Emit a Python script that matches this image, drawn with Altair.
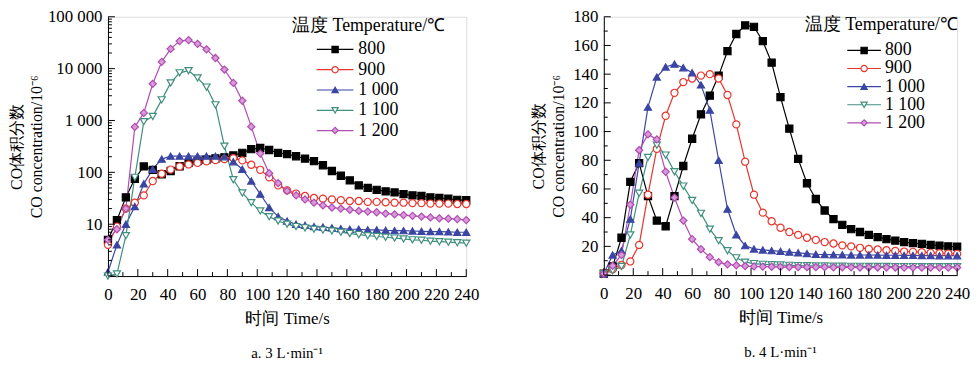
import altair as alt
import pandas as pd

# ---------------- data ----------------
T = list(range(0, 241, 6))
SERIES = ["800", "900", "1 000", "1 100", "1 200"]

# a. 3 L/min  (log scale)
A800 = [5, 12, 33, 75, 130, 112, 92, 106, 131, 152, 165, 175, 185, 195, 212, 238, 280, 295, 270, 238,
        225, 204, 184, 164, 137, 106, 86, 70, 56, 50, 46, 43, 41, 38, 36, 35, 33, 32, 31, 29.5, 29]
A900 = [4, 9, 20, 26, 36, 68, 94, 113, 130, 142, 152, 163, 172, 180, 188, 170, 140, 112, 80, 56,
        45, 39, 35, 32, 31, 30, 29, 28, 28, 27, 27, 26.5, 26, 26, 25.5, 25.5, 25, 25, 25, 24.5, 24.5]
A1000 = [1.2, 4, 10, 22, 60, 115, 180, 205, 205, 205, 205, 205, 205, 200, 160, 115, 68, 38, 21, 14,
         11.5, 10, 9.5, 9, 8.8, 8.5, 8.2, 8, 8, 7.8, 7.8, 7.6, 7.5, 7.5, 7.4, 7.3, 7.2, 7.2, 7.1, 7, 7]
A1100 = [1, 1.1, 6, 80, 950, 1200, 2500, 5300, 8300, 9100, 6600, 4400, 2000, 320, 72, 40, 26, 18, 14, 11.5,
         10, 9, 8.5, 8, 7.7, 7.4, 7, 6.6, 6.3, 6, 5.8, 5.6, 5.4, 5.2, 5, 4.9, 4.7, 4.6, 4.5, 4.4, 4.3]
A1200 = [5, 8, 20, 750, 1400, 5100, 13500, 24000, 34000, 35500, 30000, 23500, 16000, 9600, 5300, 2400, 760,
         230, 96, 62, 44, 36, 30, 26, 23, 21, 20, 19, 18, 17.5, 17, 16, 15.5, 15, 14.5, 14, 13.5, 13, 12.8,
         12.5, 12]

# b. 4 L/min  (linear scale)
B800 = [1, 6, 26, 65, 78, 55, 38, 34, 55, 76, 95, 112, 125, 139, 156, 168, 174, 173, 163, 148,
        124, 102, 81, 64, 53, 45, 39, 35, 32, 30, 28, 26.5, 25, 24, 23, 22.3, 21.8, 21, 20.5, 20, 19.8]
B900 = [1, 4, 7, 9.5, 21, 56, 88, 111, 127, 134.5, 137, 139, 140, 137, 125.5, 105, 79, 56, 43.5, 37.5,
        33, 30, 28, 26, 24.5, 23, 22, 20.7, 20, 19, 18.2, 17.8, 17.3, 16.8, 16.4, 16.2, 16, 15.5, 15.2, 15, 14.8]
B1000 = [1, 14, 17, 39, 78, 117, 138, 145, 147, 144.5, 141, 132.5, 115, 80, 46, 28, 20.5, 18.2, 17.5, 17,
         16.5, 16, 15.5, 15, 14.5, 14.3, 14.2, 14.1, 14, 14, 14, 13.9, 13.8, 13.8, 13.7, 13.7, 13.6, 13.6,
         13.5, 13.5, 13.5]
B1100 = [1, 3, 6, 28, 57, 82, 90.5, 83.6, 72, 62, 52, 43, 32, 24, 17, 12, 9, 8, 7.5, 7.2,
         7, 6.8, 6.6, 6.5, 6.4, 6.3, 6.2, 6.2, 6.1, 6.1, 6, 6, 6, 5.9, 5.9, 5.9, 5.8, 5.8, 5.8, 5.8, 5.8]
B1200 = [1, 6.5, 14, 49, 87, 98, 94.5, 72, 54, 38, 25, 18, 12.5, 9, 7.5, 6.8, 6.3, 6, 5.9, 5.8,
         5.7, 5.6, 5.6, 5.5, 5.5, 5.5, 5.4, 5.4, 5.4, 5.3, 5.3, 5.3, 5.3, 5.3, 5.2, 5.2, 5.2, 5.2, 5.2, 5.2, 5.2]

X_MAJOR = list(range(0, 241, 20))
X_MINOR = list(range(10, 240, 20))
Y_LOG_MAJOR = [1, 10, 100, 1000, 10000, 100000]
Y_LOG_MINOR = [m * 10 ** k for k in range(0, 5) for m in range(2, 10)]
Y_LIN_MAJOR = list(range(0, 181, 20))
Y_LIN_MINOR = list(range(10, 180, 20))

LEGEND_TITLE = "温度 Temperature/℃"
Y_TITLE = ["CO体积分数", "CO concentration/10⁻⁶"]
X_TITLE = "时间 Time/s"

# ---------------- style ----------------
COLORS = ["#000000", "#e8342c", "#3b45a3", "#3f8f7e", "#b04cb2"]
SHAPES = ["square", "circle", "triangle-up", "triangle-down", "diamond"]
FILLS = ["#000000", "#ffffff", "#3b45a3", "#ffffff", "#d99ad9"]
FONT = "Liberation Serif"


def long_df(values):
    rows = []
    for s, vals in zip(SERIES, values):
        for t, v in zip(T, vals):
            rows.append({"t": t, "v": v, "series": s})
    return pd.DataFrame(rows)


stroke_enc = alt.Stroke("series:N", scale=alt.Scale(domain=SERIES, range=COLORS), legend=None)
fill_enc = alt.Fill("series:N", scale=alt.Scale(domain=SERIES, range=FILLS), legend=None)
shape_enc = alt.Shape("series:N", scale=alt.Scale(domain=SERIES, range=SHAPES), legend=None)

xaxis = alt.Axis(values=X_MAJOR, ticks=False, grid=False, domainColor="black", domainWidth=1,
                 labelFont=FONT, labelFontSize=17, labelColor="black", labelPadding=11,
                 labelFlush=False, title=X_TITLE, titleFont=FONT, titleFontSize=17,
                 titleFontWeight="normal", titleColor="black", titlePadding=8)


def panel(values, W, H, yscale, yaxis, ymaj, ymin, leg, subtitle):
    df = long_df(values)
    base = alt.Chart(df)
    xs = alt.Scale(domain=[0, 240], nice=False)
    lines = base.mark_line(strokeWidth=1.2).encode(
        x=alt.X("t:Q", scale=xs, axis=xaxis),
        y=alt.Y("v:Q", scale=yscale, axis=yaxis),
        stroke=stroke_enc,
        detail="series:N",
    )
    points = base.mark_point(size=52, strokeWidth=1.2, opacity=1).encode(
        x=alt.X("t:Q", scale=xs, axis=xaxis), y=alt.Y("v:Q", scale=yscale, axis=yaxis),
        stroke=stroke_enc, fill=fill_enc, shape=shape_enc
    )
    ymaj_l = alt.Chart(pd.DataFrame({"v": ymaj})).mark_rule(color="black", strokeWidth=1).encode(
        y=alt.Y("v:Q", scale=yscale, axis=yaxis), x=alt.value(0), x2=alt.value(7))
    ymin_l = alt.Chart(pd.DataFrame({"v": ymin})).mark_rule(color="black", strokeWidth=1).encode(
        y=alt.Y("v:Q", scale=yscale, axis=yaxis), x=alt.value(0), x2=alt.value(4))
    xmaj_l = alt.Chart(pd.DataFrame({"t": X_MAJOR})).mark_rule(color="black", strokeWidth=1).encode(
        x=alt.X("t:Q", scale=xs, axis=xaxis), y=alt.value(H), y2=alt.value(H - 7))
    xmin_l = alt.Chart(pd.DataFrame({"t": X_MINOR})).mark_rule(color="black", strokeWidth=1).encode(
        x=alt.X("t:Q", scale=xs, axis=xaxis), y=alt.value(H), y2=alt.value(H - 4))

    x0, x1, xl, y0, dy, xt, yt = leg
    leg_df = pd.DataFrame({"series": SERIES, "idx": list(range(len(SERIES)))})
    lb = alt.Chart(leg_df).transform_calculate(py=f"{y0} + datum.idx * {dy}")
    py = alt.Y("py:Q", scale=None)
    leg_lines = lb.mark_rule(strokeWidth=1.2).encode(
        y=py, x=alt.value(x0), x2=alt.value(x1), stroke=stroke_enc)
    leg_pts = lb.mark_point(size=40, strokeWidth=1.2, opacity=1).encode(
        y=py, x=alt.value((x0 + x1) / 2), stroke=stroke_enc, fill=fill_enc, shape=shape_enc)
    leg_txt = lb.mark_text(align="left", baseline="middle", font=FONT, fontSize=18, color="black").encode(
        y=py, x=alt.value(xl), text="series:N")
    leg_title = alt.Chart(pd.DataFrame({"s": [LEGEND_TITLE]})).mark_text(
        align="left", baseline="middle", font=FONT, fontSize=18, color="black").encode(
        x=alt.value(xt), y=alt.value(yt), text="s:N")

    return alt.layer(lines, points, ymaj_l, ymin_l, xmaj_l, xmin_l,
                     leg_lines, leg_pts, leg_txt, leg_title).properties(
        width=W, height=H,
        title=alt.TitleParams(subtitle, orient="bottom", anchor="middle", frame="group",
                              font=FONT, fontSize=15, fontWeight="normal", color="black", offset=20),
    )


yaxis_log = alt.Axis(values=[10, 100, 1000, 10000, 100000], ticks=False, grid=False,
                     labelExpr="datum.value >= 1000 ? format(datum.value / 1000, 'd') + ' 000' : format(datum.value, 'd')",
                     domainColor="black", labelFont=FONT, labelFontSize=17, labelColor="black",
                     labelPadding=6, title=Y_TITLE, titleFont=FONT, titleFontSize=16,
                     titleFontWeight="normal", titleColor="black", titlePadding=3, titleLineHeight=20)
yaxis_lin = alt.Axis(values=list(range(20, 181, 20)), ticks=False, grid=False,
                     domainColor="black", labelFont=FONT, labelFontSize=17, labelColor="black",
                     labelPadding=6, title=Y_TITLE, titleFont=FONT, titleFontSize=16,
                     titleFontWeight="normal", titleColor="black", titlePadding=6, titleLineHeight=20)

left = panel([A800, A900, A1000, A1100, A1200], 362, 262,
             alt.Scale(type="log", domain=[1, 100000], nice=False), yaxis_log,
             Y_LOG_MAJOR, Y_LOG_MINOR, (211, 248, 253, 33, 20.5, 186, 9), "a. 3 L·min⁻¹")
right = panel([B800, B900, B1000, B1100, B1200], 357, 261,
              alt.Scale(domain=[0, 180], nice=False), yaxis_lin,
              Y_LIN_MAJOR, Y_LIN_MINOR, (246, 280, 284, 34, 18.3, 203, 8), "b. 4 L·min⁻¹")

chart = alt.hconcat(left, right, spacing=51).configure_view(stroke=None).configure(
    background="white", padding={"left": 0, "top": -3, "right": 0, "bottom": 0})

chart.save("out.html", embed_options={"renderer": "svg", "actions": False})
